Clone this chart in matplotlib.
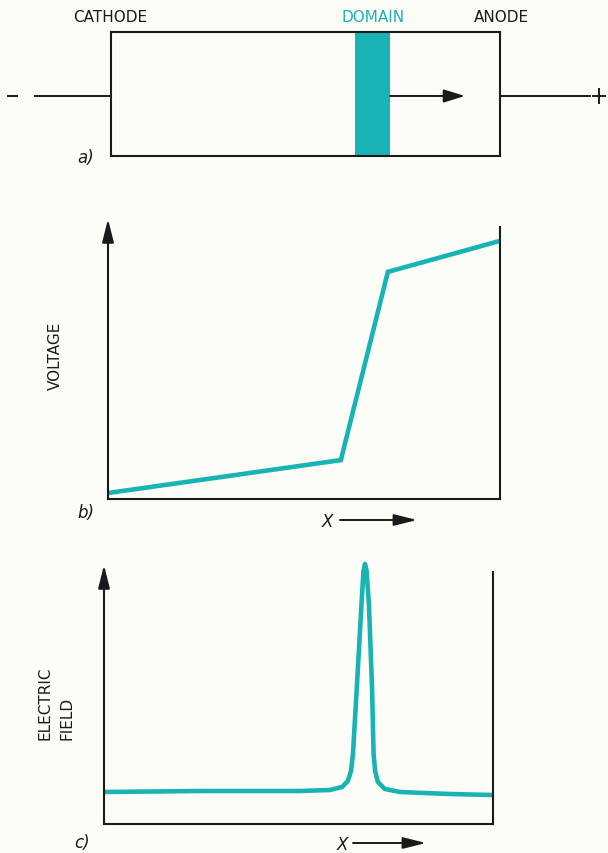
import matplotlib
matplotlib.use("Agg")
import matplotlib.pyplot as plt

# ---------------- data ----------------
# panel a: domain position along the device (fraction of length)
domain_span = [0.627, 0.717]
domain_arrow_end = 0.91

# panel b: voltage vs position
voltage_x = [0.0, 0.594, 0.714, 1.0]
voltage_y = [0.022, 0.143, 0.835, 0.949]

# panel c: electric field vs position
field_x = [0.0, 0.247, 0.504, 0.581, 0.612, 0.627, 0.635, 0.640, 0.650, 0.662,
           0.667, 0.671, 0.675, 0.681, 0.689, 0.693, 0.697, 0.704, 0.722, 0.761,
           0.889, 1.0]
field_y = [0.127, 0.131, 0.131, 0.135, 0.147, 0.171, 0.210, 0.278, 0.544, 0.873,
           1.004, 1.032, 1.004, 0.873, 0.544, 0.278, 0.210, 0.167, 0.139, 0.127,
           0.119, 0.115]

labels_top = ["CATHODE", "DOMAIN", "ANODE"]
ylabel_b = "VOLTAGE"
ylabel_c = ["ELECTRIC", "FIELD"]
panel_tags = ["a)", "b)", "c)"]
xlabel = "X"

TEAL = "#19b3b6"
BG = "#fdfdf7"
INK = "#1a1a1a"
W, H = 608, 854

fig = plt.figure(figsize=(W / 100, H / 100), dpi=100)
fig.patch.set_facecolor(BG)
FONT = ["DejaVu Sans"]


def px_axes(left, right, top, bottom):
    return fig.add_axes([left / W, 1 - bottom / H, (right - left) / W, (bottom - top) / H])


# ---------------- panel a ----------------
axa = px_axes(111, 500, 33, 157)
axa.set_xlim(0, 1)
axa.set_ylim(0, 1)
axa.set_xticks([]); axa.set_yticks([])
axa.set_facecolor("none")
for s in axa.spines.values():
    s.set_linewidth(1.5); s.set_color(INK)
axa.axvspan(domain_span[0], domain_span[1], color=TEAL, lw=0)
axa.annotate("", xy=(domain_arrow_end, 0.484), xytext=(domain_span[1], 0.484),
             arrowprops=dict(arrowstyle="-|>,head_length=1.3,head_width=0.4",
                             color=INK, lw=1.4, shrinkA=0, shrinkB=0))

# ---------------- panel b ----------------
axb = px_axes(108, 500, 228, 500)
axb.set_xlim(0, 1)
axb.set_ylim(0, 1)
axb.set_xticks([]); axb.set_yticks([])
axb.set_facecolor("none")
axb.spines["top"].set_visible(False)
for k in ["left", "bottom", "right"]:
    axb.spines[k].set_linewidth(1.5); axb.spines[k].set_color(INK)
axb.plot(voltage_x, voltage_y, color=TEAL, lw=3.3, solid_joinstyle="miter",
         solid_capstyle="butt", clip_on=False)

# ---------------- panel c ----------------
axc = px_axes(104, 493, 573, 825)
axc.set_xlim(0, 1)
axc.set_ylim(0, 1)
axc.set_xticks([]); axc.set_yticks([])
axc.set_facecolor("none")
axc.spines["top"].set_visible(False)
for k in ["left", "bottom", "right"]:
    axc.spines[k].set_linewidth(1.5); axc.spines[k].set_color(INK)
axc.plot(field_x, field_y, color=TEAL, lw=3.3, solid_joinstyle="round",
         solid_capstyle="butt", clip_on=False)

# ---------------- overlay (annotations in pixel coords) ----------------
ov = fig.add_axes([0, 0, 1, 1])
ov.set_xlim(0, W)
ov.set_ylim(H, 0)
ov.axis("off")
ov.set_facecolor("none")

tk = dict(color=INK, fontsize=11, family=FONT)
ov.text(110, 17, labels_top[0], ha="center", va="center", **tk)
ov.text(373, 17, labels_top[1], ha="center", va="center", color=TEAL,
        fontsize=11, family=FONT)
ov.text(501, 17, labels_top[2], ha="center", va="center", **tk)

# wires
ov.plot([8, 17], [97, 97], color=INK, lw=1.4)
ov.plot([35, 111], [97, 97], color=INK, lw=1.4)
ov.plot([500, 590], [97, 97], color=INK, lw=1.4)
ov.plot([593, 605], [97, 97], color=INK, lw=1.4)
ov.plot([599, 599], [90, 104], color=INK, lw=1.4)

# axis arrows (y axes)
arrow_kw = dict(arrowstyle="-|>,head_length=1.4,head_width=0.35", color=INK,
                lw=1.5, shrinkA=0, shrinkB=0)
ov.annotate("", xy=(108, 220), xytext=(108, 240), arrowprops=arrow_kw)
ov.annotate("", xy=(104, 566), xytext=(104, 585), arrowprops=arrow_kw)

# x arrows
xarrow = dict(arrowstyle="-|>,head_length=1.4,head_width=0.35", color=INK,
              lw=1.4, shrinkA=0, shrinkB=0)
ov.text(327, 522, xlabel, ha="center", va="center", fontsize=12, family=FONT,
        color=INK, style="italic")
ov.annotate("", xy=(417, 521), xytext=(340, 521), arrowprops=xarrow)
ov.text(342, 845, xlabel, ha="center", va="center", fontsize=12, family=FONT,
        color=INK, style="italic")
ov.annotate("", xy=(426, 844), xytext=(353, 844), arrowprops=xarrow)

# y labels
ov.text(55, 356, ylabel_b, rotation=90, ha="center", va="center", **tk)
ov.text(45, 740, ylabel_c[0], rotation=90, ha="center", va="bottom", **tk)
ov.text(67, 740, ylabel_c[1], rotation=90, ha="center", va="bottom", **tk)

# panel tags
ov.text(86, 158, panel_tags[0], ha="center", va="center", fontsize=12,
        family=FONT, color=INK, style="italic")
ov.text(86, 513, panel_tags[1], ha="center", va="center", fontsize=12,
        family=FONT, color=INK, style="italic")
ov.text(82, 843, panel_tags[2], ha="center", va="center", fontsize=12,
        family=FONT, color=INK, style="italic")

fig.savefig("out.png", dpi=100, facecolor=BG)
